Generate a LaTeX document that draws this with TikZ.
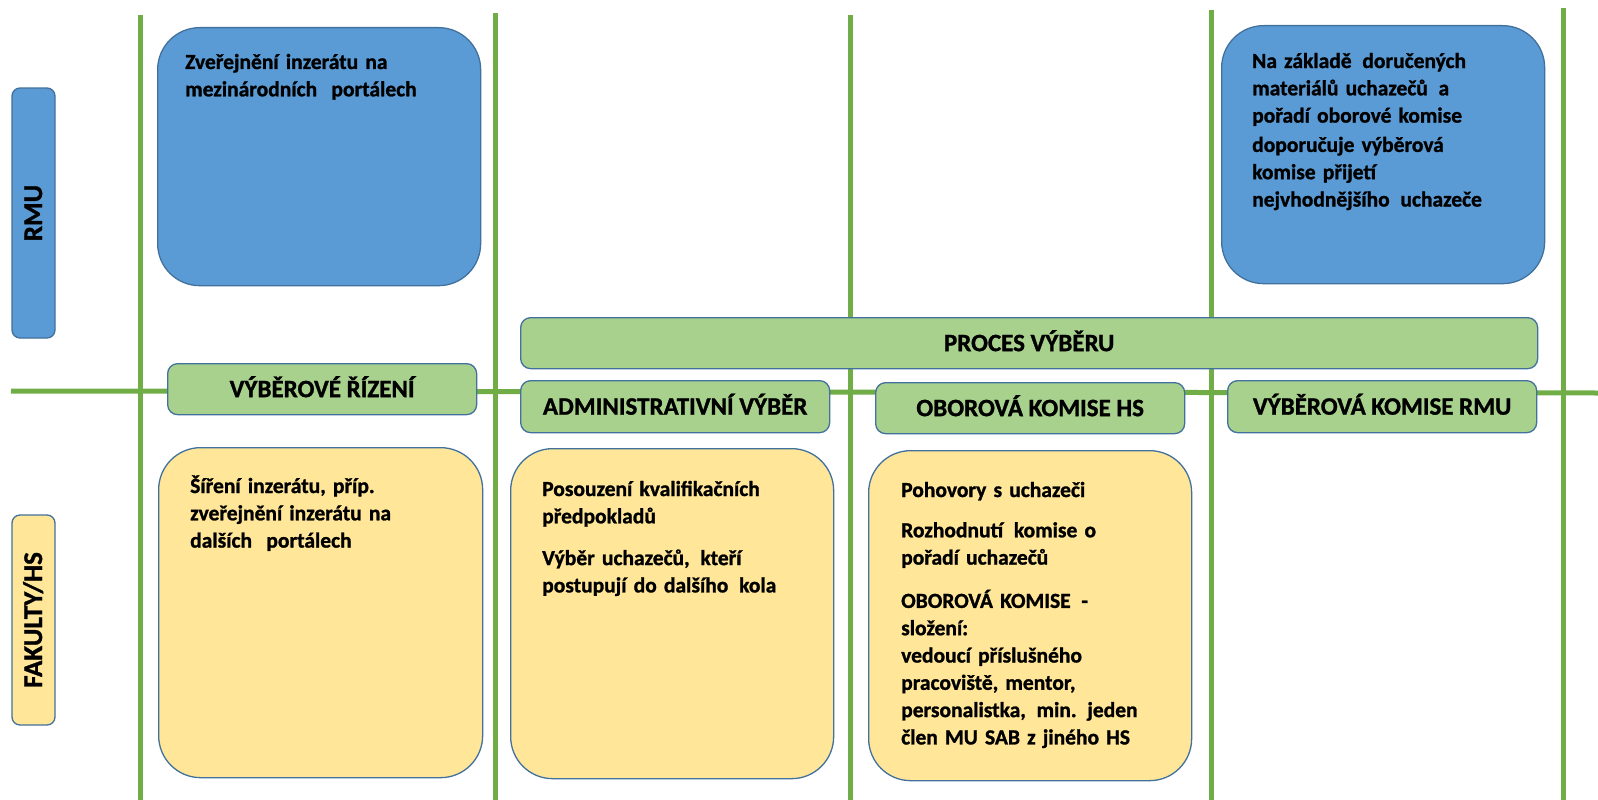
\documentclass[tikz,border=0pt]{standalone}
\usepackage{fontspec}
\setmainfont{Carlito}[BoldFont={* Bold},BoldFeatures={FakeBold=1.2}]
\definecolor{bluefill}{HTML}{5B9BD5}
\definecolor{edgeblue}{HTML}{41719C}
\definecolor{greenfill}{HTML}{A9D18E}
\definecolor{yellowfill}{HTML}{FFE699}
\definecolor{lanegreen}{HTML}{70AD47}
\begin{document}
\begin{tikzpicture}[x=1pt,y=-1pt,
  lane/.style={draw=lanegreen, line width=5pt},
  bigbox/.style={draw=edgeblue, line width=1.3pt, rounded corners=42pt, anchor=north west, inner sep=0pt},
  headbox/.style={draw=edgeblue, line width=1.3pt, fill=greenfill, rounded corners=10pt, anchor=north west,
     inner sep=0pt, minimum height=51pt, font=\fontsize{25}{30}\selectfont\bfseries,
     text height=16pt, text depth=0pt},
  sidebox/.style={draw=edgeblue, line width=1.3pt, rounded corners=8pt, rotate=90, inner sep=0pt,
     minimum height=43pt, font=\fontsize{27}{32}\selectfont\bfseries, text height=17pt, text depth=0pt},
  body/.style={anchor=base west, inner sep=0pt, text width=300pt, align=left,
     font=\fontsize{21.5}{27.3}\selectfont\bfseries}
]
\useasboundingbox (0,0) rectangle (1598,800);
\fill[white] (0,0) rectangle (1598,800);

% swim lane lines
\draw[lane] (140,15) -- (140,800);
\draw[lane] (495,13) -- (495,800);
\draw[lane] (850,15) -- (850,800);
\draw[lane] (1211,10) -- (1211,800);
\draw[lane] (1563,8) -- (1563,800);
\draw[lane] (11,391) -- (1598,393);

% side labels
\node[sidebox, fill=bluefill, minimum width=250pt] (rmu) at (33.5,213) {RMU};
\node[sidebox, fill=yellowfill, minimum width=210pt] (fak) at (33.5,620) {FAKULTY/HS};

% RMU row boxes
\node[bigbox, fill=bluefill, minimum width=323pt, minimum height=258pt] (zverej) at (157,27) {};
\node[body] (zverejt) at (185,69) {Zveřejnění inzerátu na\\mezinárodních \ portálech};

\node[bigbox, fill=bluefill, minimum width=323pt, minimum height=258pt] (doporuc) at (1221,25) {};
\node[body] (doporuct) at (1252,68) {Na základě \,doručených\\materiálů uchazečů \,a\\pořadí oborové komise\\[2pt]doporučuje výběrová\\komise přijetí\\nejvhodnějšího \,uchazeče};

% header boxes
\node[headbox, minimum width=1017pt] (proces) at (520,317) {PROCES VÝBĚRU};
\node[headbox, minimum width=309pt] (vr) at (167,363) {VÝBĚROVÉ ŘÍZENÍ};
\node[headbox, minimum width=309pt, minimum height=52pt] (admin) at (520,380) {ADMINISTRATIVNÍ VÝBĚR};
\node[headbox, minimum width=309pt] (obor) at (875,382) {OBOROVÁ KOMISE HS};
\node[headbox, minimum width=309pt, minimum height=52pt] (vkrmu) at (1227,380) {VÝBĚROVÁ KOMISE RMU};

% faculty row boxes
\node[bigbox, fill=yellowfill, minimum width=324pt, minimum height=330pt] (sireni) at (158,447) {};
\node[body] (sirenit) at (190,493) {Šíření inzerátu, příp.\\zveřejnění inzerátu na\\dalších \ portálech};

\node[bigbox, fill=yellowfill, minimum width=323pt, minimum height=330pt] (posouz) at (510,448) {};
\node[body] (posouzt) at (542,496) {Posouzení kvalifikačních\\předpokladů\\[14.5pt]Výběr uchazečů, \,kteří\\postupují do dalšího \,kola};

\node[bigbox, fill=yellowfill, minimum width=323pt, minimum height=330pt] (pohov) at (868,450) {};
\node[body] (pohovt) at (901,497) {Pohovory s uchazeči\\[13pt]Rozhodnutí \,komise o\\pořadí uchazečů\\[16pt]OBOROVÁ KOMISE \,-\\složení:\\vedoucí příslušného\\pracoviště, mentor,\\personalistka, \,min. jeden\\člen MU SAB z jiného HS};
\end{tikzpicture}
\end{document}
